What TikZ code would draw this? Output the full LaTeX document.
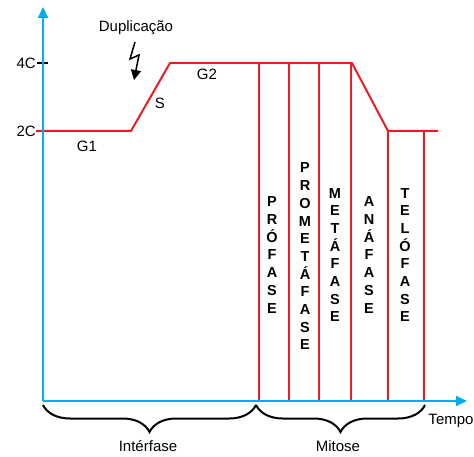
\documentclass[tikz,border=0pt]{standalone}
\usepackage{fontspec}
\setmainfont{Liberation Sans}
\usetikzlibrary{arrows.meta,decorations.pathreplacing}
\definecolor{axisblue}{RGB}{0,174,239}
\definecolor{phred}{RGB}{237,28,36}
\begin{document}
\begin{tikzpicture}[x=1pt,y=-1pt,
  axis/.style={axisblue,line width=2pt,-{Triangle[length=11pt,width=10pt]}},
  curve/.style={phred,line width=2pt,line join=miter},
  phaseline/.style={phred,line width=2pt},
  lbl/.style={font=\fontsize{15}{17}\selectfont,inner sep=0pt},
  vtext/.style={font=\bfseries\fontsize{14.5}{17.7}\selectfont,align=center,inner sep=0pt},
  bracestyle/.style={black,line width=2pt,decorate,decoration={brace,mirror,amplitude=27pt}}]
\useasboundingbox (0,0) rectangle (474,457);
% coordinates
\coordinate (O) at (43,401);
\coordinate (ytop) at (43,7);
\coordinate (xend) at (467,401);
\coordinate (t4a) at (37,63);
\coordinate (t4b) at (48,63);
\coordinate (c0) at (36,131);
\coordinate (c1) at (131,131);
\coordinate (c2) at (170,63);
\coordinate (c3) at (352,63);
\coordinate (c4) at (388,131);
\coordinate (c5) at (438,131);
% phase lines
\foreach \x/\y in {259/63,289/63,319/63,351/63,388/131,424/131}{
  \draw[phaseline] (\x,\y) -- (\x,401);
}
% DNA curve
\draw[curve] (c0) -- (c1) -- (c2) -- (c3) -- (c4) -- (c5);
% tick
\draw[black,line width=1.3pt] (t4a) -- (t4b);
% axes
\draw[axis] (O) -- (ytop);
\draw[axis] (O) -- (xend);
% labels
\node[lbl,anchor=east] (l4c) at (36,63) {4C};
\node[lbl,anchor=east] (l2c) at (36,131) {2C};
\node[lbl] (dup) at (136,28) {Duplicação};
\node[lbl] (g1) at (87,146) {G1};
\node[lbl] (s) at (160,103) {S};
\node[lbl] (g2) at (207,74) {G2};
\node[lbl] (tempo) at (451,421) {Tempo};
% lightning
\coordinate (z0) at (135,42);
\coordinate (z1) at (130,59);
\coordinate (z2) at (139,55);
\coordinate (z3) at (134,80);
\draw[black,line width=1.5pt,-{Triangle[length=10pt,width=10pt]}] (z0) -- (z1) -- (z2) -- (z3);
% phase names
\node[vtext] (pro) at (272,255) {P\\R\\Ó\\F\\A\\S\\E};
\node[vtext] (prom) at (305,256.5) {P\\R\\O\\M\\E\\T\\Á\\F\\A\\S\\E};
\node[vtext] (meta) at (335,255) {M\\E\\T\\Á\\F\\A\\S\\E};
\node[vtext] (ana) at (369,255) {A\\N\\Á\\F\\A\\S\\E};
\node[vtext] (telo) at (405,255) {T\\E\\L\\Ó\\F\\A\\S\\E};
% braces
\coordinate (b0) at (43,405);
\coordinate (b1) at (256,405);
\coordinate (b2) at (425,405);
\draw[bracestyle] (b0) -- (b1);
\draw[bracestyle] (b1) -- (b2);
\node[lbl] (inter) at (148,446) {Intérfase};
\node[lbl] (mit) at (338,446) {Mitose};
\end{tikzpicture}
\end{document}
